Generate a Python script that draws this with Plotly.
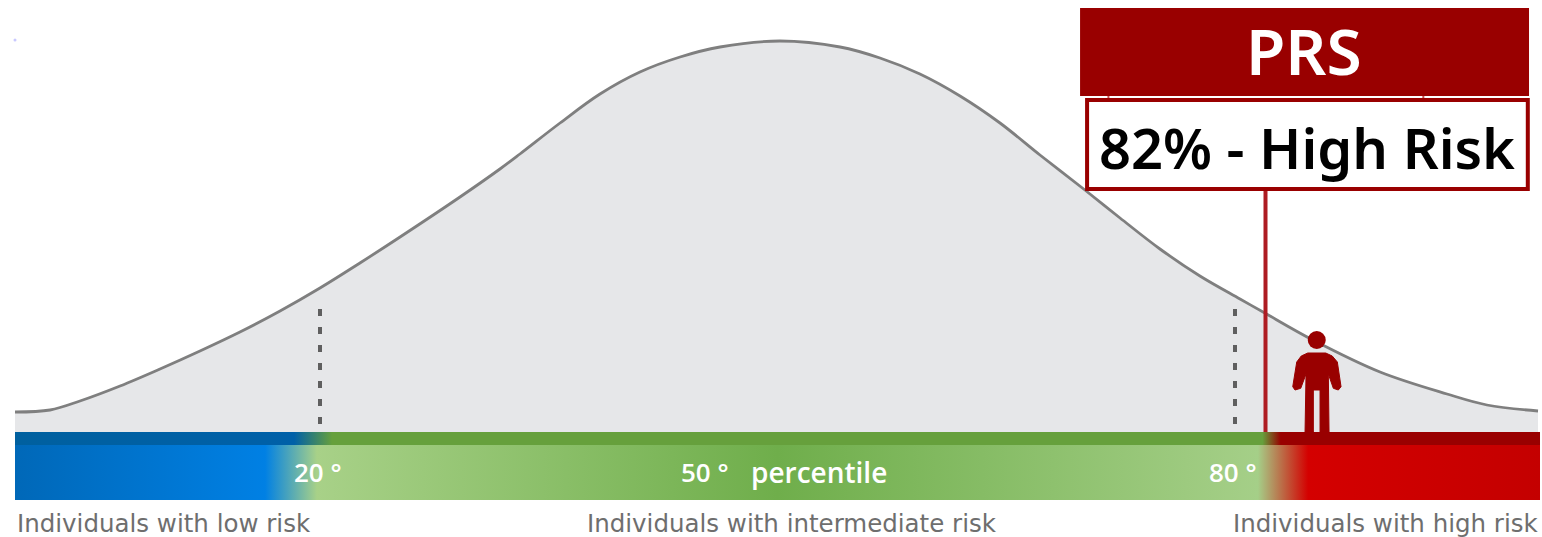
import plotly.graph_objects as go

# Population risk curve: percentile on x, curve height on y
percentile = [0, 2.3, 4.26, 6.89, 9.51, 12.13, 14.75, 17.38, 20, 22.62, 25.25, 29.18, 31.8, 33.11,
              35.74, 38.36, 40.98, 43.61, 46.23, 50.16, 54.1, 56.72, 59.34, 61.97, 64.59, 67.21,
              70.16, 72.46, 75.08, 77.7, 80.33, 81.84, 85.11, 89.51, 93.9, 96.52, 99.87]
density = [20, 22, 31, 46, 63, 81, 100, 121, 144, 169, 195, 235, 263, 278,
           309, 338, 360, 375, 385, 391, 385, 374, 358, 336, 309, 277,
           242, 214, 183, 156, 133, 120, 92, 60, 38, 27, 21]

# Percentile thresholds and the reported score
thresholds = [20, 80]
threshold_top = 123
score = 82
score_label = "82% - High Risk"
header_label = "PRS"
person_percentile = 85.36
person_head_height = 92

# Risk band gradients
band_stops = [0, 0.164, 0.198, 0.5, 0.815, 0.848, 1]
band_colors = ["#0068B8", "#0080E4", "#A8D188", "#6FAE4B", "#A5CF88", "#D40000", "#C40000"]
rim_stops = [0, 0.183, 0.208, 0.818, 0.83, 1]
rim_colors = ["#00609F", "#0060A8", "#66A03C", "#66A03C", "#990000", "#990000"]

band_labels = ["20 °", "50 °", "percentile", "80 °"]
band_label_x = [19.85, 45.25, 52.7, 79.9]
band_label_size = [26, 26, 28, 26]
risk_labels = ["Individuals with low risk", "Individuals with intermediate risk", "Individuals with high risk"]
risk_x = [0, 50.98, 100]
risk_anchor = ["left", "center", "right"]

# Person pictogram outline: offset from its centre (pixels of width) and height above the band
person_dx = [-11.7, -10.7, -16, -21.7, -24, -20, -15.5, -9, 9, 15.5, 20.6, 24.3, 21.6, 16.6, 11.6, 12.3,
             3.3, 3.3, -3.4, -3.4, -11.7]
person_h = [0, 58, 43.7, 42, 45.3, 70, 76, 79, 79, 76, 70, 45.3, 42, 43.7, 58, 0, 0, 42, 42, 0, 0]

WIDTH, HEIGHT = 1542, 537
PX_PER_PCT = 15.25
X0_PX = 15
BASE_PX = 432
x_range = [-X0_PX / PX_PER_PCT, (WIDTH - X0_PX) / PX_PER_PCT]
y_range = [BASE_PX - HEIGHT, BASE_PX]
RED = "#990000"


def stops(pos, cols):
    return [[p, c] for p, c in zip(pos, cols)]


fig = go.Figure()

fig.add_trace(go.Scatter(x=percentile, y=density, mode="lines", fill="tozeroy", fillcolor="#E6E7E9",
                         line=dict(color="#7F7F7F", width=2.8, shape="spline", smoothing=1.0)))

for t in thresholds:
    fig.add_trace(go.Scatter(x=[t, t], y=[threshold_top, 8], mode="lines",
                             line=dict(color="#5F5F5F", width=4, dash="7px,11px")))

# Lower band and darker rim along its top edge
fig.add_trace(go.Scatter(x=[0, 100, 100, 0, 0], y=[-13, -13, -68, -68, -13], mode="lines", fill="toself",
                         line=dict(width=0),
                         fillgradient=dict(type="horizontal", colorscale=stops(band_stops, band_colors))))
fig.add_trace(go.Scatter(x=[0, 100, 100, 0, 0], y=[0, 0, -13, -13, 0], mode="lines", fill="toself",
                         line=dict(width=0),
                         fillgradient=dict(type="horizontal", colorscale=stops(rim_stops, rim_colors))))

# Score marker line
fig.add_trace(go.Scatter(x=[score, score], y=[242, 0], mode="lines", line=dict(color="#AE1C22", width=4)))

# Person pictogram
fig.add_trace(go.Scatter(x=[person_percentile + d / PX_PER_PCT for d in person_dx], y=person_h,
                         mode="lines", fill="toself", fillcolor=RED, line=dict(color=RED, width=1)))
fig.add_trace(go.Scatter(x=[person_percentile], y=[person_head_height], mode="markers",
                         marker=dict(color=RED, size=18, line=dict(width=0))))

# Small stray dot at the upper left
fig.add_trace(go.Scatter(x=[0], y=[392], mode="markers", marker=dict(color="#C9C9FF", size=3, line=dict(width=0))))

# Header box, connector ticks and score box
shapes = [
    dict(type="rect", xref="x", yref="y", x0=69.84, x1=99.28, y0=336, y1=424, fillcolor=RED, line=dict(width=0),
         layer="above"),
    dict(type="line", xref="x", yref="y", x0=71.7, x1=71.7, y0=332, y1=336, line=dict(color="#C65050", width=2),
         layer="above"),
    dict(type="line", xref="x", yref="y", x0=92.35, x1=92.35, y0=332, y1=336, line=dict(color="#C65050", width=2),
         layer="above"),
    dict(type="rect", xref="x", yref="y", x0=70.3, x1=99.2, y0=243, y1=332, fillcolor="white",
         line=dict(color=RED, width=4), layer="above"),
]

annotations = []
for text, x, size in zip(band_labels, band_label_x, band_label_size):
    annotations.append(dict(x=x, y=-40, xref="x", yref="y", text=text, showarrow=False, xanchor="center",
                            yanchor="middle", font=dict(family="Open Sans", size=size, color="white", weight=600)))
for text, x, a in zip(risk_labels, risk_x, risk_anchor):
    annotations.append(dict(x=x, y=-91, xref="x", yref="y", text=text, showarrow=False, xanchor=a, yanchor="middle",
                            font=dict(family="DejaVu Sans", size=24.5, color="#6E6E6E")))
annotations.append(dict(x=84.5, y=382, xref="x", yref="y", text=header_label, showarrow=False, xanchor="center",
                        yanchor="middle", font=dict(family="Noto Sans", size=64, color="white", weight=600)))
annotations.append(dict(x=84.69, y=285, xref="x", yref="y", text=score_label, showarrow=False, xanchor="center",
                        yanchor="middle", font=dict(family="Noto Sans", size=56, color="black", weight=600)))

fig.update_layout(
    width=WIDTH, height=HEIGHT, margin=dict(l=0, r=0, t=0, b=0), showlegend=False,
    paper_bgcolor="white", plot_bgcolor="white",
    xaxis=dict(range=x_range, visible=False, fixedrange=True),
    yaxis=dict(range=y_range, visible=False, fixedrange=True),
    shapes=shapes, annotations=annotations,
)

fig.write_html("out.html", config={"displayModeBar": False})
